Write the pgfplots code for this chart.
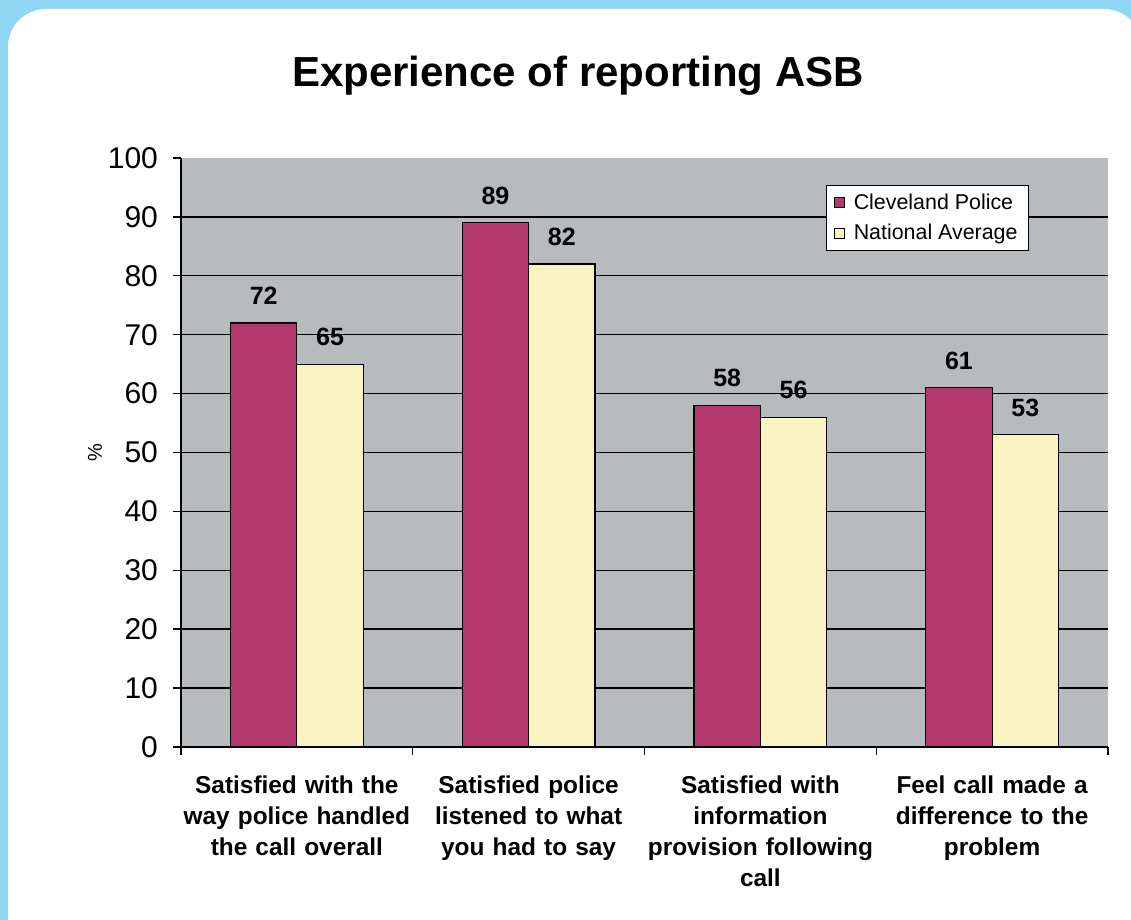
\documentclass[border=0pt]{standalone}
\usepackage{pgfplots}
\pgfplotsset{compat=1.18}
\usepackage{fontspec}
\setmainfont{Liberation Sans}
\definecolor{bgblue}{RGB}{143,214,243}
\definecolor{plotgray}{RGB}{183,187,190}
\definecolor{cleve}{RGB}{178,56,110}
\definecolor{natl}{RGB}{250,244,194}
\begin{document}
\begin{tikzpicture}
\useasboundingbox (0,0) rectangle (565.5pt,460pt);
\begin{scope}
\clip (0,0) rectangle (565.5pt,460pt);
\fill[bgblue] (0,0) rectangle (565.5pt,460pt);
\fill[white, rounded corners=19pt] (4pt,-30pt) rectangle (571pt,455.5pt);
\end{scope}
\node[font=\bfseries\fontsize{21}{25}\selectfont, anchor=base] at (289pt,416.5pt) {Experience of reporting ASB};
\begin{axis}[
  at={(90.5pt,86.5pt)}, anchor=south west,
  scale only axis, width=463.5pt, height=294.5pt,
  ymin=0, ymax=100, xmin=-0.5, xmax=3.5,
  ybar=0pt, bar width=0.286,
  axis background/.style={fill=plotgray},
  axis x line*=bottom, axis y line*=left,
  axis line style={line width=0.7pt},
  tick align=outside, major tick length=4pt,
  tick style={black, line width=0.7pt},
  /pgf/number format/assume math mode=true,
  ytick={0,10,...,100},
  yticklabel style={font=\fontsize{15}{18}\selectfont, xshift=-4pt},
  extra y ticks={10,20,...,90},
  extra y tick labels={},
  extra y tick style={grid=major, major grid style={black, line width=0.7pt}},
  xtick={-0.5,0.5,1.5,2.5,3.5},
  xticklabels={},
  extra x ticks={0,1,2,3},
  extra x tick labels={{Satisfied with the\\way police handled\\the call overall},
    {Satisfied police\\listened to what\\you had to say},
    {Satisfied with\\information\\provision following\\call},
    {Feel call made a\\difference to the\\problem}},
  extra x tick style={major tick length=0pt},
  xticklabel style={font=\bfseries\fontsize{12.2}{15.5}\selectfont, align=center, text width=125pt, yshift=-11pt},
  ylabel={\%},
  every axis y label/.style={at={(rel axis cs:0,0.5)}, xshift=-43pt, rotate=90, anchor=center, font=\fontsize{10}{12}\selectfont},
  nodes near coords,
  every node near coord/.append style={font=\bfseries\fontsize{12.5}{14}\selectfont, yshift=5.5pt, black},
  legend style={at={(rel axis cs:0.696,0.954)}, anchor=north west, draw=black, line width=0.6pt, fill=white,
    font=\fontsize{10.7}{13}\selectfont, row sep=2pt, inner xsep=3.5pt, inner ysep=2pt},
  legend cell align=left,
  /tikz/every odd column/.append style={column sep=2.5pt},
  legend image code/.code={\draw[#1, draw=black, line width=0.5pt] (0pt,-2.5pt) rectangle (5pt,2.5pt);},
]
\addplot[fill=cleve, draw=black, line width=0.6pt] coordinates {(0,72) (1,89) (2,58) (3,61)};
\addplot[fill=natl, draw=black, line width=0.6pt] coordinates {(0,65) (1,82) (2,56) (3,53)};
\legend{Cleveland Police, National Average}
\end{axis}
\end{tikzpicture}
\end{document}
